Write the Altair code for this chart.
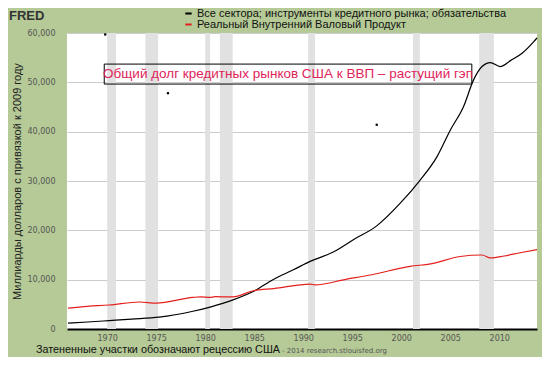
import altair as alt
import pandas as pd

# ---------------- data ----------------
debt_name = "Все сектора; инструменты кредитного рынка; обязательства"
gdp_name = "Реальный Внутренний Валовый Продукт"

debt_years = [1966.0, 1968.0, 1970.2, 1972.5, 1975.3, 1978.75, 1980.5, 1982.84, 1985.1, 1986.9,
              1989.0, 1990.7, 1993.07, 1995.11, 1997.5, 1999.9, 2001.93, 2003.64, 2005.0,
              2006.36, 2007.38, 2008.24, 2009.09, 2010.1, 2011.14, 2012.33, 2013.5, 2013.85]
debt_values = [1200, 1420, 1700, 2000, 2400, 3600, 4450, 5900, 7800, 10000,
               12000, 13700, 15600, 18100, 20900, 25500, 30200, 34900, 40300,
               45100, 50500, 53200, 54000, 53200, 54400, 55900, 58200, 59000]

gdp_years = [1966.0, 1968.0, 1970.2, 1973.3, 1975.0, 1978.75, 1979.5, 1980.5, 1981.0, 1982.8,
             1984.9, 1987.0, 1990.7, 1991.2, 1994.44, 1997.0, 2000.9, 2003.0, 2006.0,
             2008.24, 2009.1, 2010.5, 2012.0, 2013.85]
gdp_values = [4250, 4600, 4860, 5470, 5260, 6400, 6500, 6400, 6550, 6500,
              7750, 8200, 9100, 8950, 10100, 11000, 12700, 13200, 14700,
              15000, 14400, 14800, 15400, 16100]

rec_start = [1970.0, 1973.9, 1980.0, 1981.5, 1990.5, 2001.2, 2007.95]
rec_end = [1970.9, 1975.2, 1980.5, 1982.8, 1991.2, 2001.9, 2009.45]

dot_years = [1969.8, 1976.2, 1997.5]
dot_values = [59700, 47800, 41400]

note_text = ["Общий долг кредитных рынков США к ВВП – растущий гэп"]
note_x = [1969.7]
note_x2 = [2007.2]
note_y = [53700]
note_y2 = [49650]
note_cx = [1988.45]
note_cy = [51700]

x_ticks = [1970, 1975, 1980, 1985, 1990, 1995, 2000, 2005, 2010]
y_ticks = [0, 10000, 20000, 30000, 40000, 50000, 60000]

# ---------------- tables ----------------
lines_df = pd.concat([
    pd.DataFrame({"year": debt_years, "value": debt_values, "series": debt_name, "ord": 0}),
    pd.DataFrame({"year": gdp_years, "value": gdp_values, "series": gdp_name, "ord": 1}),
])
rec_df = pd.DataFrame({"start": rec_start, "end": rec_end})
dots_df = pd.DataFrame({"year": dot_years, "value": dot_values})
note_df = pd.DataFrame({"text": note_text, "x": note_x, "x2": note_x2, "y": note_y,
                        "y2": note_y2, "cx": note_cx, "cy": note_cy})

W, H = 470, 296
xscale = alt.Scale(domain=[1965.9, 2013.85], nice=False, zero=False)
yscale = alt.Scale(domain=[0, 60000], nice=False)

xaxis = alt.Axis(values=x_ticks, format="d", title=None, grid=False, ticks=False,
                 labelFont="DejaVu Sans", labelFontSize=8, labelColor="#555555",
                 labelPadding=5, domain=True, domainColor="#000000", domainWidth=2)
yaxis = alt.Axis(values=y_ticks, format=",d", title="Миллиарды долларов с привязкой к 2009 году",
                 grid=True, gridColor="#cccccc", gridWidth=1, ticks=False, domain=False,
                 labelFont="DejaVu Sans", labelFontSize=8, labelColor="#555555", labelPadding=12,
                 titleFont="Liberation Sans", titleFontSize=11, titleFontWeight="normal",
                 titleColor="#222222", titleX=-50, titleY=H / 2, titleAngle=-90,
                 titleAlign="center", titleBaseline="middle")

rec = alt.Chart(rec_df).mark_rect(color="#e1e1e1").encode(
    x=alt.X("start:Q", scale=xscale, axis=xaxis),
    x2="end:Q",
    y=alt.value(0),
    y2=alt.value(H),
)

lines = alt.Chart(lines_df).mark_line(strokeWidth=1.2, interpolate="monotone").encode(
    x=alt.X("year:Q", scale=xscale, axis=xaxis),
    y=alt.Y("value:Q", scale=yscale, axis=yaxis),
    color=alt.Color("series:N",
                    scale=alt.Scale(domain=[debt_name, gdp_name], range=["#000000", "#e3201c"]),
                    sort=[debt_name, gdp_name],
                    legend=alt.Legend(title=None, orient="none", legendX=116, legendY=-25,
                                      symbolType="stroke", symbolSize=40, symbolStrokeWidth=2,
                                      labelFont="Liberation Sans", labelFontSize=11,
                                      labelColor="#111111", labelLimit=500, rowPadding=-1,
                                      padding=0, labelOffset=3)),
    detail="series:N",
    order="ord:Q",
)

dots = alt.Chart(dots_df).mark_square(size=5, color="#000000", opacity=1).encode(
    x=alt.X("year:Q", scale=xscale),
    y=alt.Y("value:Q", scale=yscale),
)

box = alt.Chart(note_df).mark_rect(fill=None, stroke="#000000", strokeWidth=1).encode(
    x=alt.X("x:Q", scale=xscale), x2="x2:Q",
    y=alt.Y("y:Q", scale=yscale), y2="y2:Q",
)
note = alt.Chart(note_df).mark_text(font="Liberation Sans", fontSize=13.5, color="#e0245a",
                                    align="center", baseline="middle").encode(
    x=alt.X("cx:Q", scale=xscale), y=alt.Y("cy:Q", scale=yscale), text="text:N",
)

fred = alt.Chart(pd.DataFrame({"t": ["FRED"]})).mark_text(
    font="Liberation Sans", fontSize=13, fontWeight="bold", color="#333333",
    align="left", baseline="alphabetic").encode(x=alt.value(-58), y=alt.value(-13), text="t:N")

footer1 = alt.Chart(pd.DataFrame({"t": ["Затененные участки обозначают рецессию США"]})).mark_text(
    font="Liberation Sans", fontSize=10.8, color="#111111", align="left",
    baseline="middle").encode(x=alt.value(-31), y=alt.value(317), text="t:N")
footer2 = alt.Chart(pd.DataFrame({"t": ["- 2014 research.stlouisfed.org"]})).mark_text(
    font="DejaVu Sans", fontSize=7, color="#555555", align="left",
    baseline="middle").encode(x=alt.value(215), y=alt.value(318), text="t:N")

chart = alt.layer(rec, lines, dots, box, note, fred, footer1, footer2).properties(
    width=W, height=H,
    background="#b5ca96",
    padding={"left": 59, "top": 25, "right": 5, "bottom": 28},
    autosize=alt.AutoSizeParams(type="none"),
).configure_view(fill="#ffffff", stroke=None)

chart.save("out.html", embed_options={"renderer": "svg", "actions": False})
